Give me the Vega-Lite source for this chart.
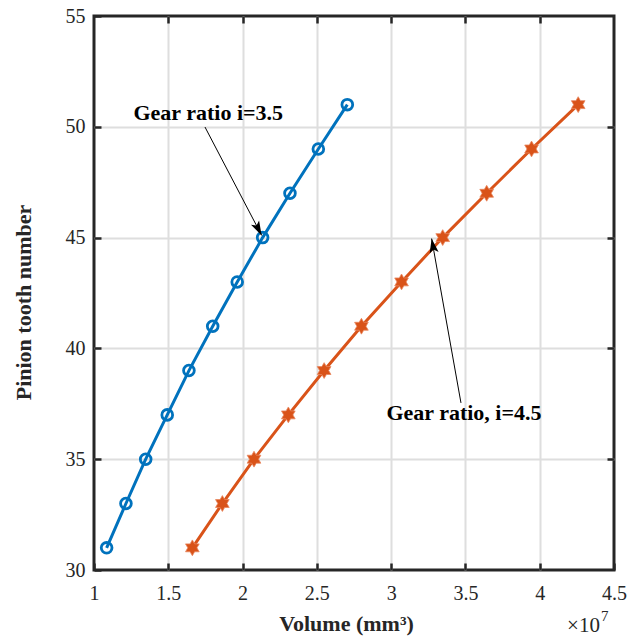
{
  "$schema": "https://vega.github.io/schema/vega-lite/v6.json",
  "width": 520,
  "height": 554,
  "autosize": "none",
  "padding": {"left": 94, "top": 16, "right": 26, "bottom": 71},
  "background": "white",
  "config": {
    "view": {"stroke": "#262626", "strokeWidth": 3},
    "font": "Liberation Serif"
  },
  "datasets": {
    "curves": [
      {"series": "i=3.5", "volume": 1.085, "teeth": 31},
      {"series": "i=3.5", "volume": 1.215, "teeth": 33},
      {"series": "i=3.5", "volume": 1.348, "teeth": 35},
      {"series": "i=3.5", "volume": 1.493, "teeth": 37},
      {"series": "i=3.5", "volume": 1.639, "teeth": 39},
      {"series": "i=3.5", "volume": 1.799, "teeth": 41},
      {"series": "i=3.5", "volume": 1.964, "teeth": 43},
      {"series": "i=3.5", "volume": 2.135, "teeth": 45},
      {"series": "i=3.5", "volume": 2.319, "teeth": 47},
      {"series": "i=3.5", "volume": 2.51, "teeth": 49},
      {"series": "i=3.5", "volume": 2.705, "teeth": 51},
      {"series": "i=4.5", "volume": 1.662, "teeth": 31},
      {"series": "i=4.5", "volume": 1.864, "teeth": 33},
      {"series": "i=4.5", "volume": 2.077, "teeth": 35},
      {"series": "i=4.5", "volume": 2.308, "teeth": 37},
      {"series": "i=4.5", "volume": 2.549, "teeth": 39},
      {"series": "i=4.5", "volume": 2.8, "teeth": 41},
      {"series": "i=4.5", "volume": 3.07, "teeth": 43},
      {"series": "i=4.5", "volume": 3.347, "teeth": 45},
      {"series": "i=4.5", "volume": 3.643, "teeth": 47},
      {"series": "i=4.5", "volume": 3.945, "teeth": 49},
      {"series": "i=4.5", "volume": 4.259, "teeth": 51}
    ],
    "arrows": [
      {"id": 1, "x": 1.747, "y": 49.99, "x2": 2.1285, "y2": 45.1},
      {"id": 2, "x": 3.47, "y": 37.54, "x2": 3.2725, "y2": 44.955}
    ],
    "notes": [
      {"text": "Gear ratio i=3.5", "x": 1.769, "y": 50.29},
      {"text": "Gear ratio, i=4.5", "x": 3.49, "y": 36.76}
    ],
    "exponent": [
      {"base": "×10", "power": "7", "x": 4.405, "y": 27.22, "y2": 27.72}
    ]
  },
  "resolve": {"axis": {"x": "independent", "y": "independent"}},
  "layer": [
    {
      "data": {"name": "curves"},
      "mark": {"type": "line", "strokeWidth": 3},
      "encoding": {
        "x": {
          "field": "volume", "type": "quantitative",
          "scale": {"domain": [1, 4.5], "nice": false, "zero": false},
          "axis": {
            "orient": "bottom",
            "title": "Volume (mm³)",
            "values": [1, 1.5, 2, 2.5, 3, 3.5, 4, 4.5],
            "format": "~g",
            "domain": false,
            "grid": true,
            "gridColor": "#dedede",
            "gridWidth": 2,
            "gridOpacity": {"condition": {"test": "datum.value <= 1 || datum.value >= 4.5", "value": 0}, "value": 1},
            "ticks": true,
            "tickSize": -7,
            "tickWidth": 2.5,
            "tickColor": "#262626",
            "labelFont": "Liberation Serif",
            "labelFontSize": 20,
            "labelColor": "#262626",
            "labelPadding": 20,
            "labelFlush": false,
            "titleFont": "Liberation Serif",
            "titleFontSize": 22,
            "titleFontWeight": "bold",
            "titleColor": "#262626",
            "titleBaseline": "alphabetic",
            "titleX": 252,
            "titleY": 60
          }
        },
        "y": {
          "field": "teeth", "type": "quantitative",
          "scale": {"domain": [30, 55], "nice": false, "zero": false},
          "axis": {
            "orient": "left",
            "title": "Pinion tooth number",
            "values": [30, 35, 40, 45, 50, 55],
            "format": "d",
            "domain": false,
            "grid": true,
            "gridColor": "#dedede",
            "gridWidth": 2,
            "gridOpacity": {"condition": {"test": "datum.value <= 30 || datum.value >= 55", "value": 0}, "value": 1},
            "ticks": true,
            "tickSize": -7,
            "tickWidth": 2.5,
            "tickColor": "#262626",
            "labelFont": "Liberation Serif",
            "labelFontSize": 20,
            "labelColor": "#262626",
            "labelPadding": 16,
            "labelFlush": false,
            "titleFont": "Liberation Serif",
            "titleFontSize": 22,
            "titleFontWeight": "bold",
            "titleColor": "#262626",
            "titleAngle": -90,
            "titleBaseline": "middle",
            "titleAlign": "center",
            "titleX": -71,
            "titleY": 286
          }
        },
        "color": {
          "field": "series", "type": "nominal",
          "scale": {"domain": ["i=3.5", "i=4.5"], "range": ["#0072BD", "#D95319"]},
          "legend": null
        }
      }
    },
    {
      "data": {"name": "curves"},
      "transform": [{"filter": "datum.series == 'i=3.5'"}],
      "mark": {"type": "point", "shape": "circle", "filled": false, "size": 115, "strokeWidth": 2.8, "color": "#0072BD", "opacity": 1},
      "encoding": {
        "x": {"field": "volume", "type": "quantitative",
          "axis": {"orient": "top", "title": null, "labels": false, "domain": false, "grid": false,
            "values": [1.5, 2, 2.5, 3, 3.5, 4], "ticks": true, "tickSize": -7, "tickWidth": 2.5, "tickColor": "#262626"}},
        "y": {"field": "teeth", "type": "quantitative",
          "axis": {"orient": "right", "title": null, "labels": false, "domain": false, "grid": false,
            "values": [35, 40, 45, 50], "ticks": true, "tickSize": -7, "tickWidth": 2.5, "tickColor": "#262626"}}
      }
    },
    {
      "data": {"name": "curves"},
      "transform": [{"filter": "datum.series == 'i=4.5'"}],
      "mark": {"type": "point", "shape": "M0,-1L0.289,-0.5L0.866,-0.5L0.577,0L0.866,0.5L0.289,0.5L0,1L-0.289,0.5L-0.866,0.5L-0.577,0L-0.866,-0.5L-0.289,-0.5Z", "filled": true, "size": 250, "color": "#D95319", "stroke": "#E8865E", "strokeWidth": 0.8, "opacity": 1},
      "encoding": {
        "x": {"field": "volume", "type": "quantitative", "axis": null},
        "y": {"field": "teeth", "type": "quantitative", "axis": null}
      }
    },
    {
      "data": {"name": "arrows"},
      "mark": {"type": "rule", "color": "black", "strokeWidth": 1},
      "encoding": {
        "x": {"field": "x", "type": "quantitative", "axis": null},
        "y": {"field": "y", "type": "quantitative", "axis": null},
        "x2": {"field": "x2"},
        "y2": {"field": "y2"}
      }
    },
    {
      "data": {"name": "arrows"},
      "transform": [{"filter": "datum.id == 1"}],
      "mark": {"type": "point", "shape": "M0,0L0.7,2.2L0,1.7L-0.7,2.2Z", "filled": true, "size": 169, "color": "black", "opacity": 1, "angle": 152.4},
      "encoding": {
        "x": {"field": "x2", "type": "quantitative", "axis": null},
        "y": {"field": "y2", "type": "quantitative", "axis": null}
      }
    },
    {
      "data": {"name": "arrows"},
      "transform": [{"filter": "datum.id == 2"}],
      "mark": {"type": "point", "shape": "M0,0L0.7,2.2L0,1.7L-0.7,2.2Z", "filled": true, "size": 169, "color": "black", "opacity": 1, "angle": 349.9},
      "encoding": {
        "x": {"field": "x2", "type": "quantitative", "axis": null},
        "y": {"field": "y2", "type": "quantitative", "axis": null}
      }
    },
    {
      "data": {"name": "notes"},
      "mark": {"type": "text", "font": "Liberation Serif", "fontSize": 22, "fontWeight": "bold", "color": "black", "align": "center", "baseline": "alphabetic"},
      "encoding": {
        "x": {"field": "x", "type": "quantitative", "axis": null},
        "y": {"field": "y", "type": "quantitative", "axis": null},
        "text": {"field": "text"}
      }
    },
    {
      "data": {"name": "exponent"},
      "mark": {"type": "text", "font": "Liberation Serif", "fontSize": 21, "color": "#262626", "align": "right", "baseline": "alphabetic"},
      "encoding": {
        "x": {"field": "x", "type": "quantitative", "axis": null},
        "y": {"field": "y", "type": "quantitative", "axis": null},
        "text": {"field": "base"}
      }
    },
    {
      "data": {"name": "exponent"},
      "mark": {"type": "text", "font": "Liberation Serif", "fontSize": 15, "color": "#262626", "align": "left", "baseline": "alphabetic", "dx": 1},
      "encoding": {
        "x": {"field": "x", "type": "quantitative", "axis": null},
        "y": {"field": "y2", "type": "quantitative", "axis": null},
        "text": {"field": "power"}
      }
    }
  ]
}
